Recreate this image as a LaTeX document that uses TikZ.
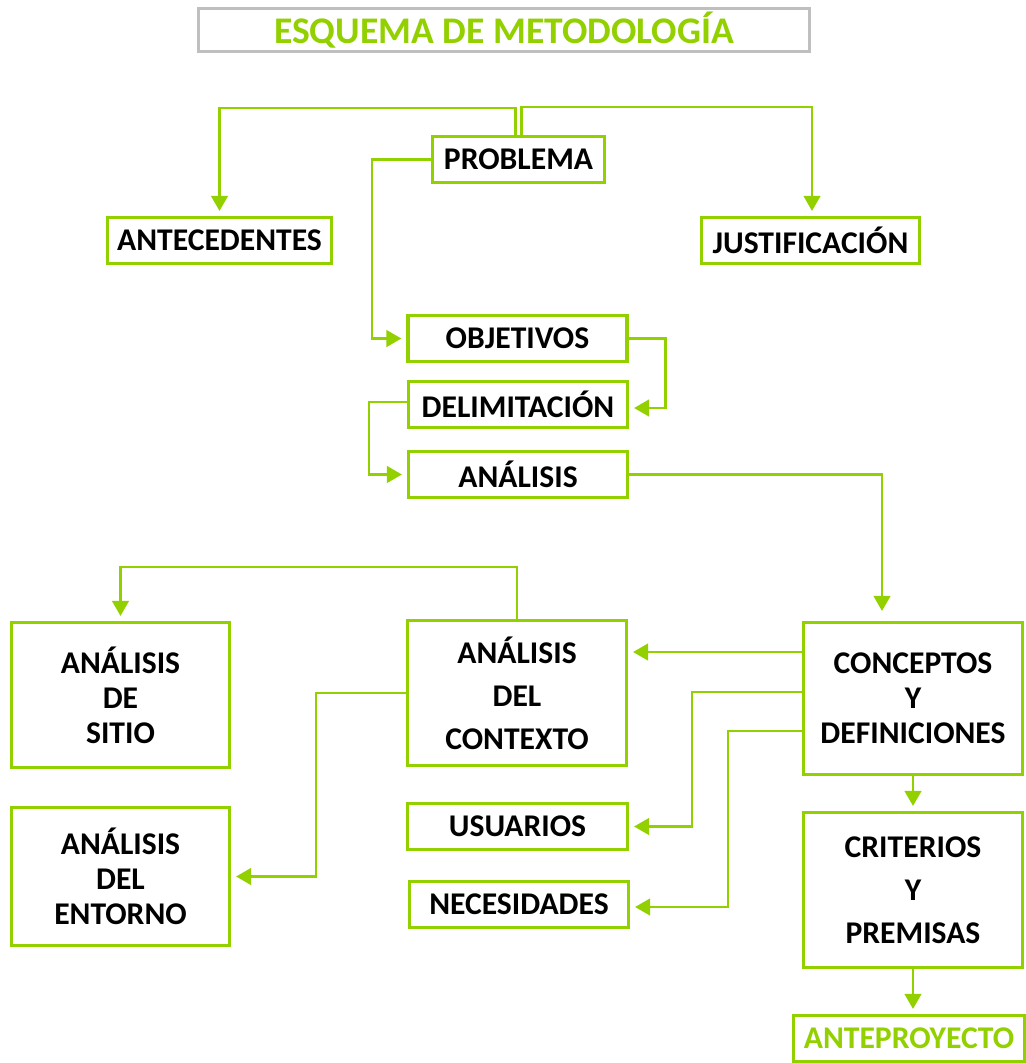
\documentclass[tikz,border=0pt]{standalone}
\usepackage{fontspec}
\setmainfont{Carlito}
\usetikzlibrary{arrows.meta}
\definecolor{lima}{RGB}{146,208,0}
\definecolor{marco}{RGB}{191,191,191}

\begin{document}
\begin{tikzpicture}[
    x=0.02cm, y=-0.02cm,
    stage/.style={
        rectangle,
        draw=lima,
        line width=1.8pt,
        fill=white,
        minimum width=4.38cm,
        minimum height=0.92cm,
        inner sep=0pt,
        font=\fontsize{18}{20}\selectfont\bfseries,
        align=center
    },
    heading/.style={
        rectangle,
        draw=marco,
        line width=1.7pt,
        minimum width=12.22cm,
        minimum height=0.86cm,
        inner sep=0pt,
        text=lima,
        font=\fontsize{21.4}{24}\selectfont\bfseries
    },
    link/.style={
        draw=lima,
        line width=1.5pt,
        -{Triangle[length=0.3cm,width=0.33cm]},
        shorten >=0.1cm
    }
]
\useasboundingbox (0,0) rectangle (1026,1063);

\node[heading] (titulo) at (504,30) {ESQUEMA DE METODOLOGÍA};

\node[stage, minimum width=3.44cm] (probl) at (518.5,159.5) {PROBLEMA};
\node[stage, minimum width=4.48cm] (antec) at (219.5,240.5) {ANTECEDENTES};
\node[stage, minimum width=4.36cm] (justif) at (810.5,240.5) {JUSTIFICACIÓN};
\node[stage] (objet) at (517.5,338.5) {OBJETIVOS};
\node[stage] (delim) at (518,404.5) {DELIMITACIÓN};
\node[stage] (anal) at (518,474.5) {ANÁLISIS};

\node[stage, minimum width=4.36cm, minimum height=2.9cm] (sitio) at (120.5,695) {ANÁLISIS\\DE\\SITIO};
\node[stage, minimum height=2.9cm] (ctx) at (517,693) {ANÁLISIS\\[4.5pt]DEL\\[4.5pt]CONTEXTO};
\node[stage, minimum height=3.04cm] (conc) at (913,698.5) {CONCEPTOS\\Y\\DEFINICIONES};
\node[stage, minimum width=4.36cm, minimum height=2.76cm] (ent) at (120.5,876.5) {ANÁLISIS\\DEL\\ENTORNO};
\node[stage, minimum width=4.4cm] (usu) at (517.5,826.5) {USUARIOS};
\node[stage] (nec) at (519,904.5) {NECESIDADES};
\node[stage, minimum height=3.1cm] (crit) at (913,890) {CRITERIOS\\[4.5pt]Y\\[4.5pt]PREMISAS};
\node[stage, minimum width=4.62cm, text=lima] (antep) at (909,1038.5) {ANTEPROYECTO};

\coordinate (c1) at ([yshift=0.93cm]conc.west);
\coordinate (c2) at ([yshift=0.13cm]conc.west);
\coordinate (c3) at ([yshift=-0.65cm]conc.west);

\draw[link] ([xshift=-0.06cm]probl.north) -- ++(0,-27) -| (antec.north);
\draw[link] ([xshift=0.06cm]probl.north) -- ++(0,-28) -| ([xshift=0.03cm]justif.north);
\draw[link] (probl.west) -- ++(-59,0) |- (objet.west);
\draw[link] (objet.east) -- ++(37,0) |- ([yshift=-0.07cm]delim.east);
\draw[link] ([yshift=0.05cm]delim.west) -- ++(-38,0) |- (anal.west);
\draw[link, shorten >=0.2cm] (anal.east) -| ([xshift=-0.62cm]conc.north);
\draw[link] (ctx.north) -- ++(0,-52) -| (sitio.north);
\draw[link] (c1) -- (c1 -| ctx.east);
\draw[link] (c2) -- ++(-110,0) |- (usu.east);
\draw[link] (c3) -- ++(-74,0) |- ([yshift=-0.05cm]nec.east);
\draw[link] (ctx.west) -- ++(-90,0) |- (ent.east);
\draw[link] (conc.south) -- (crit.north);
\draw[link] (crit.south) -- (crit.south |- antep.north);

\end{tikzpicture}
\end{document}
